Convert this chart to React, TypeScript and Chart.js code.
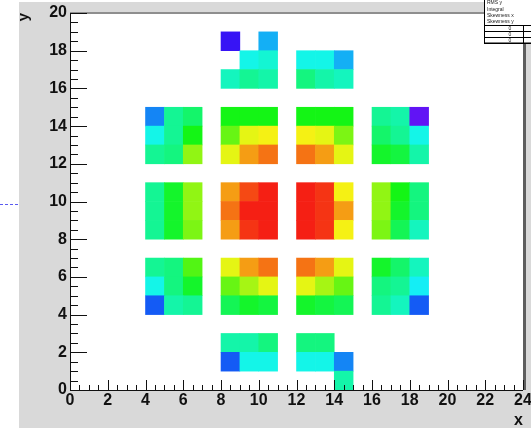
import React, { useEffect, useRef } from "react";
import { Chart, registerables } from "chart.js";

Chart.register(...registerables);

const W = 531;
const H = 428;
const FONT = "'Liberation Sans', Arial, Helvetica, sans-serif";

// Axis ranges and tick labels
const xRange = [0, 24];
const yRange = [0, 20];
const xTickLabels = [0, 2, 4, 6, 8, 10, 12, 14, 16, 18, 20, 22, 24];
const yTickLabels = [0, 2, 4, 6, 8, 10, 12, 14, 16, 18, 20];

// Bin contents: for each row (lower edge y), the filled bins' lower x edges and contents
const rowY = [18, 17, 16, 14, 13, 12, 10, 9, 8, 6, 5, 4, 2, 1, 0];
const rowX = [
  [8, 10],
  [9, 10, 12, 13, 14],
  [8, 9, 10, 12, 13, 14],
  [4, 5, 6, 8, 9, 10, 12, 13, 14, 16, 17, 18],
  [4, 5, 6, 8, 9, 10, 12, 13, 14, 16, 17, 18],
  [4, 5, 6, 8, 9, 10, 12, 13, 14, 16, 17, 18],
  [4, 5, 6, 8, 9, 10, 12, 13, 14, 16, 17, 18],
  [4, 5, 6, 8, 9, 10, 12, 13, 14, 16, 17, 18],
  [4, 5, 6, 8, 9, 10, 12, 13, 14, 16, 17, 18],
  [4, 5, 6, 8, 9, 10, 12, 13, 14, 16, 17, 18],
  [4, 5, 6, 8, 9, 10, 12, 13, 14, 16, 17, 18],
  [4, 5, 6, 8, 9, 10, 12, 13, 14, 16, 17, 18],
  [8, 9, 10, 12, 13],
  [8, 9, 10, 12, 13, 14],
  [14],
];
const rowZ = [
  [10, 29],
  [36, 39, 36, 36, 29],
  [41, 44, 43, 46, 43, 40],
  [25, 45, 49, 57, 57, 58, 57, 57, 58, 45, 42, 6],
  [37, 45, 56, 65, 77, 79, 78, 77, 66, 48, 45, 36],
  [44, 46, 68, 77, 86, 90, 90, 86, 77, 54, 52, 42],
  [45, 55, 68, 86, 95, 100, 100, 96, 79, 68, 56, 46],
  [45, 55, 68, 90, 100, 100, 100, 96, 86, 68, 55, 46],
  [45, 55, 67, 87, 96, 100, 99, 96, 79, 67, 50, 41],
  [45, 47, 62, 77, 86, 90, 90, 86, 77, 54, 48, 40],
  [37, 46, 55, 65, 71, 76, 76, 71, 65, 46, 45, 35],
  [20, 43, 45, 50, 55, 53, 55, 53, 50, 45, 41, 20],
  [42, 42, 46, 46, 46],
  [20, 36, 36, 36, 36, 25],
  [42],
];
const zMin = 0;
const zMax = 100;

// Stats box texts
const statLabels = ["RMS y", "Integral", "Skewness x", "Skewness y"];
const statTable = ["0", "0", "0"];

function paletteColor(z: number): string {
  const n = 50;
  let i = Math.floor(((z - zMin) / (zMax - zMin)) * n);
  i = Math.max(0, Math.min(n - 1, i));
  const hue = 280 - ((i + 0.5) * 280) / n;
  return `hsl(${hue.toFixed(1)}, 92%, 52%)`;
}

export default function App() {
  const ref = useRef<HTMLCanvasElement | null>(null);

  useEffect(() => {
    const canvas = ref.current;
    if (!canvas) return;

    const points: { x: number; y: number }[] = [];
    const colors: string[] = [];
    rowY.forEach((y, r) => {
      rowX[r].forEach((x, k) => {
        points.push({ x: x + 0.5, y: y + 0.5 });
        colors.push(paletteColor(rowZ[r][k]));
      });
    });

    const backgroundPlugin = {
      id: "rootBackground",
      beforeDraw(chart: any) {
        const { ctx, chartArea } = chart;
        ctx.save();
        ctx.fillStyle = "#ffffff";
        ctx.fillRect(0, 0, W, H);
        ctx.fillStyle = "#d9d9d9";
        ctx.fillRect(19, 2, W - 19, H - 2);
        ctx.fillStyle = "#ffffff";
        ctx.fillRect(chartArea.left, chartArea.top, chartArea.right - chartArea.left, chartArea.bottom - chartArea.top);
        // blue dotted line at left
        ctx.strokeStyle = "#5a5af0";
        ctx.lineWidth = 1;
        ctx.setLineDash([3, 2]);
        ctx.beginPath();
        ctx.moveTo(0, 204.5);
        ctx.lineTo(18, 204.5);
        ctx.stroke();
        ctx.setLineDash([]);
        ctx.restore();
      },
    };

    const framePlugin = {
      id: "rootFrame",
      afterDraw(chart: any) {
        const { ctx, chartArea } = chart;
        const xs = chart.scales.x;
        const ys = chart.scales.y;
        const { left, right, top, bottom } = chartArea;
        ctx.save();
        // top and right frame edges
        ctx.fillStyle = "#8e8e8e";
        ctx.fillRect(left, top - 1, right - left + 3, 2);
        ctx.fillStyle = "#5e5e5e";
        ctx.fillRect(right, top - 1, 3, bottom - top + 1);
        // axes
        ctx.strokeStyle = "#111111";
        ctx.lineWidth = 1;
        ctx.beginPath();
        ctx.moveTo(left + 0.5, top);
        ctx.lineTo(left + 0.5, bottom + 0.5);
        ctx.lineTo(right, bottom + 0.5);
        ctx.stroke();
        // x ticks (inward)
        ctx.beginPath();
        for (let v = xRange[0]; v <= xRange[1] + 1e-9; v += 0.5) {
          const px = Math.round(xs.getPixelForValue(v)) + 0.5;
          const len = Math.abs(v % 2) < 1e-9 ? 10 : 5;
          ctx.moveTo(px, bottom);
          ctx.lineTo(px, bottom - len);
        }
        // y ticks (inward)
        for (let v = yRange[0]; v <= yRange[1] + 1e-9; v += 0.5) {
          const py = Math.round(ys.getPixelForValue(v)) + 0.5;
          const len = Math.abs(v % 2) < 1e-9 ? 17 : 8;
          ctx.moveTo(left, py);
          ctx.lineTo(left + len, py);
        }
        ctx.stroke();
        // axis titles
        ctx.fillStyle = "#111111";
        ctx.font = `bold 16px ${FONT}`;
        ctx.textAlign = "right";
        ctx.textBaseline = "alphabetic";
        ctx.fillText("x", right, 425);
        ctx.save();
        ctx.translate(28, top);
        ctx.rotate(-Math.PI / 2);
        ctx.font = `bold 15px ${FONT}`;
        ctx.textAlign = "right";
        ctx.fillText("y", 0, 0);
        ctx.restore();

        // stats box
        const bx = 484;
        ctx.fillStyle = "#ffffff";
        ctx.fillRect(bx, 0, W - bx, 43);
        ctx.strokeStyle = "#000000";
        ctx.lineWidth = 1;
        ctx.strokeRect(bx + 0.5, -1, W - bx + 2, 44);
        ctx.fillStyle = "#222222";
        ctx.font = `5px ${FONT}`;
        ctx.textAlign = "left";
        ctx.textBaseline = "middle";
        statLabels.forEach((s, i) => {
          ctx.fillText(s, bx + 3, 3 + i * 6.3);
        });
        // under/overflow table
        const rowsY = [25, 31, 37, 43];
        ctx.beginPath();
        rowsY.forEach((yy) => {
          ctx.moveTo(bx, yy + 0.5);
          ctx.lineTo(W, yy + 0.5);
        });
        ctx.moveTo(523.5, 25);
        ctx.lineTo(523.5, 43);
        ctx.stroke();
        ctx.textAlign = "center";
        statTable.forEach((s, i) => {
          ctx.fillText(s, 510, rowsY[i] + 3.5);
        });
        ctx.restore();
      },
    };

    const tickFont = { family: FONT, size: 16, weight: "bold" as const, lineHeight: 1 };

    const chart = new Chart(canvas, {
      type: "scatter",
      data: {
        datasets: [
          {
            label: "h2",
            data: points,
            pointStyle: "rect",
            pointBackgroundColor: colors,
            pointBorderWidth: 0,
            pointBorderColor: "rgba(0,0,0,0)",
            pointRadius: (c: any) => {
              const xs = c.chart.scales.x;
              const ys = c.chart.scales.y;
              if (!xs || !ys) return 10;
              const wx = Math.abs(xs.getPixelForValue(1) - xs.getPixelForValue(0));
              const wy = Math.abs(ys.getPixelForValue(0) - ys.getPixelForValue(1));
              return (Math.max(wx, wy) / 2 + 0.3) / Math.SQRT1_2;
            },
            pointHoverRadius: 0,
          } as any,
        ],
      },
      options: {
        responsive: false,
        maintainAspectRatio: false,
        animation: false,
        devicePixelRatio: 1,
        events: [],
        layout: { padding: { top: 13, right: 8, left: 0, bottom: 0 } },
        plugins: {
          legend: { display: false },
          tooltip: { enabled: false },
          title: { display: false },
        },
        scales: {
          x: {
            type: "linear",
            position: "bottom",
            min: xRange[0],
            max: xRange[1],
            grid: { display: false, drawTicks: false },
            border: { display: false },
            ticks: {
              stepSize: 2,
              autoSkip: false,
              maxRotation: 0,
              padding: 3,
              color: "#111111",
              font: tickFont,
              callback: (v: any) => (xTickLabels.includes(Number(v)) ? String(v) : ""),
            },
            afterFit: (s: any) => {
              s.height = 38;
              s.paddingLeft = 0;
              s.paddingRight = 0;
            },
          },
          y: {
            type: "linear",
            position: "left",
            min: yRange[0],
            max: yRange[1],
            grid: { display: false, drawTicks: false },
            border: { display: false },
            ticks: {
              stepSize: 2,
              autoSkip: false,
              padding: 3,
              color: "#111111",
              font: tickFont,
              callback: (v: any) => (yTickLabels.includes(Number(v)) ? String(v) : ""),
            },
            afterFit: (s: any) => {
              s.width = 70;
              s.paddingTop = 0;
              s.paddingBottom = 0;
            },
          },
        },
      },
      plugins: [backgroundPlugin, framePlugin],
    });

    return () => {
      chart.destroy();
    };
  }, []);

  return (
    <div style={{ position: "fixed", left: 0, top: 0, width: W, height: H, background: "#ffffff" }}>
      <canvas ref={ref} width={W} height={H} style={{ display: "block", width: W, height: H }} />
    </div>
  );
}
